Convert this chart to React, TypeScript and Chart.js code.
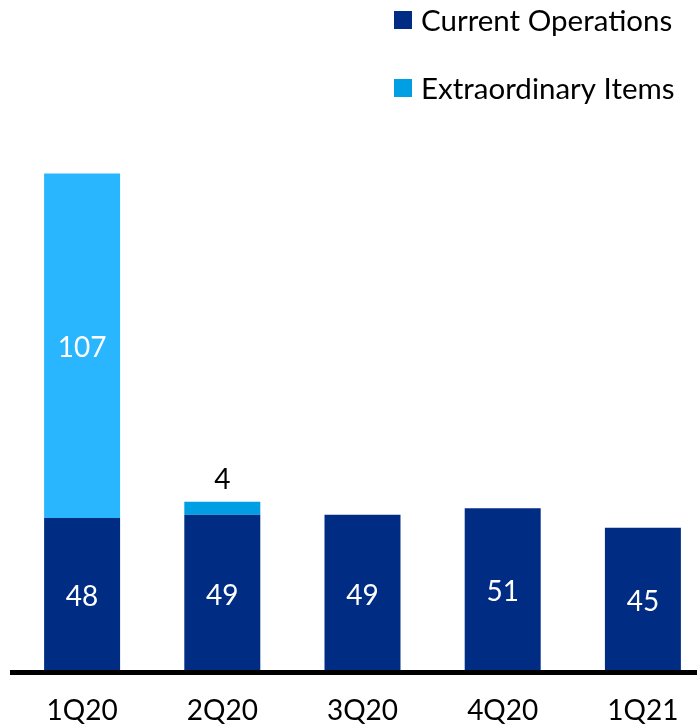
import React, { useEffect, useRef } from "react";
import { Chart, registerables } from "chart.js";

Chart.register(...registerables);

const categories = ["1Q20", "2Q20", "3Q20", "4Q20", "1Q21"];
const currentOperations = [48, 49, 49, 51, 45];
const extraordinaryItems = [107, 4, 0, 0, 0];
const seriesNames = ["Current Operations", "Extraordinary Items"];

const NAVY = "#002C84";
const EXTRA_BARS = ["#29B6FF", "#009FE3", "#009FE3", "#009FE3", "#009FE3"];
const EXTRA_LEGEND = "#009FE3";
const FONT = "Lato, 'Noto Sans', sans-serif";

const widenPlugin = {
  id: "widenArea",
  afterLayout(chart: any) {
    const s = chart.scales.x;
    const right = 713;
    s.right = right;
    s.width = right - s.left;
    chart.chartArea.right = right;
    chart.chartArea.width = right - chart.chartArea.left;
    s.configure();
  },
};

const legendPlugin = {
  id: "customLegend",
  afterDraw(chart: any) {
    const ctx = chart.ctx;
    const colors = [NAVY, EXTRA_LEGEND];
    const ys = [20, 88];
    ctx.save();
    chart.data.datasets.forEach((ds: any, i: number) => {
      ctx.fillStyle = colors[i];
      ctx.fillRect(394, ys[i] - 9, 18, 18);
      ctx.fillStyle = "#000";
      ctx.font = `29.5px ${FONT}`;
      ctx.textAlign = "left";
      ctx.textBaseline = "middle";
      ctx.fillText(ds.label, 421, ys[i] + 1);
    });
    ctx.restore();
  },
};

const labelPlugin = {
  id: "barLabels",
  afterDatasetsDraw(chart: any) {
    const ctx = chart.ctx;
    ctx.save();
    ctx.font = `28px ${FONT}`;
    ctx.textAlign = "center";
    ctx.textBaseline = "middle";
    chart.data.datasets.forEach((ds: any, di: number) => {
      const meta = chart.getDatasetMeta(di);
      meta.data.forEach((bar: any, i: number) => {
        const v = ds.data[i];
        if (!v) return;
        const top = Math.min(bar.y, bar.base);
        const bottom = Math.max(bar.y, bar.base);
        if (bottom - top > 40) {
          ctx.fillStyle = "#fff";
          ctx.fillText(String(v), bar.x, (top + bottom) / 2 + 2);
        } else {
          ctx.fillStyle = "#000";
          ctx.fillText(String(v), bar.x, top - 22);
        }
      });
    });
    ctx.restore();
  },
};

export default function App() {
  const ref = useRef<HTMLCanvasElement>(null);
  useEffect(() => {
    if (!ref.current) return;
    const chart = new Chart(ref.current, {
      type: "bar",
      data: {
        labels: categories,
        datasets: [
          {
            label: seriesNames[0],
            data: currentOperations,
            backgroundColor: NAVY,
            barPercentage: 0.542,
            categoryPercentage: 1,
          },
          {
            label: seriesNames[1],
            data: extraordinaryItems,
            backgroundColor: EXTRA_BARS,
            barPercentage: 0.542,
            categoryPercentage: 1,
          },
        ],
      },
      options: {
        animation: false,
        responsive: false,
        layout: { padding: { left: 12, right: 0, top: 93, bottom: 0 } },
        plugins: {
          legend: { display: false },
          tooltip: { enabled: false },
        },
        scales: {
          x: {
            stacked: true,
            grid: { display: false, drawTicks: false },
            border: { display: true, color: "#000", width: 5, z: 1 },
            ticks: {
              color: "#000",
              font: { family: FONT, size: 28 },
              padding: 22,
              maxRotation: 0,
            },
            afterFit: (scale: any) => {
              scale.height = 55.5;
            },
          },
          y: {
            stacked: true,
            display: false,
            min: 0,
            max: 180,
          },
        },
      },
      plugins: [widenPlugin, legendPlugin, labelPlugin],
    });
    return () => chart.destroy();
  }, []);
  return (
    <div style={{ position: "absolute", left: 0, top: 0, width: 697, height: 728 }}>
      <canvas ref={ref} width={697} height={728} style={{ width: 697, height: 728, display: "block" }} />
    </div>
  );
}
